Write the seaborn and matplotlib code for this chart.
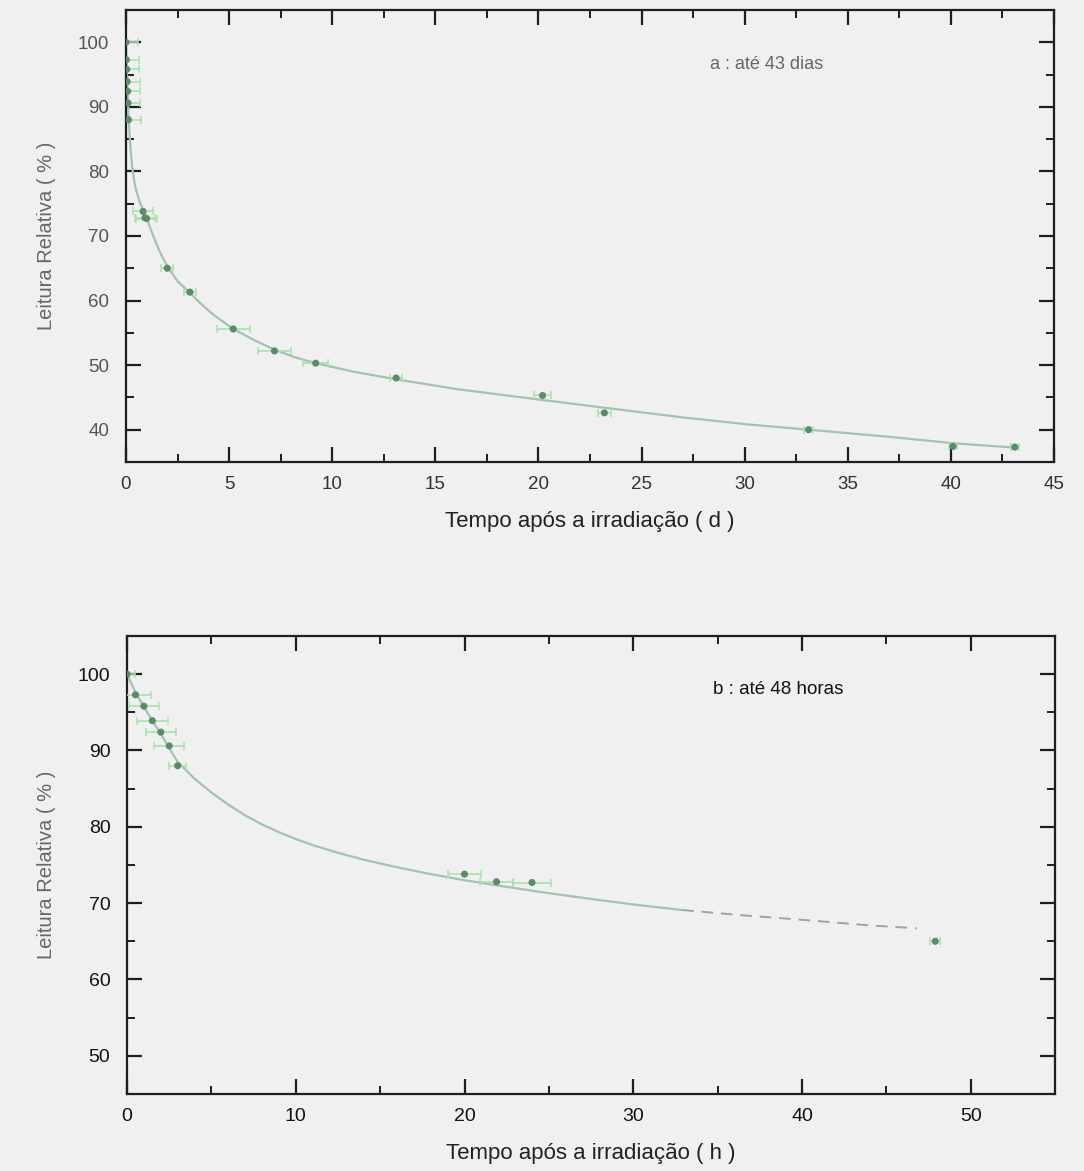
import matplotlib
matplotlib.use("Agg")
import matplotlib.pyplot as plt
from matplotlib.ticker import MultipleLocator
import seaborn as sns
import numpy as np
import pandas as pd

# ---------------- data ----------------
# Panel a (days)
a_x = [0, 0.02, 0.04, 0.06, 0.08, 0.10, 0.125, 0.83, 0.92, 1.0, 2.0, 3.1,
       5.2, 7.2, 9.2, 13.1, 20.2, 23.2, 33.1, 40.1, 43.1]
a_y = [100, 97.3, 95.8, 93.9, 92.4, 90.6, 88.0, 73.8, 72.8, 72.7, 65.0, 61.3,
       55.6, 52.2, 50.3, 48.0, 45.3, 42.6, 40.0, 37.4, 37.3]
a_xerr = [0.6, 0.6, 0.6, 0.6, 0.6, 0.6, 0.6, 0.5, 0.5, 0.5, 0.3, 0.3,
          0.8, 0.8, 0.6, 0.3, 0.4, 0.3, 0.2, 0.2, 0.2]
a_fit_x = [0, 0.04, 0.08, 0.125, 0.2, 0.3, 0.45, 0.65, 0.85, 1.0, 1.25, 1.5,
           1.75, 2.05, 2.5, 3.1, 3.6, 4.2, 5.2, 6.2, 7.2, 8.2, 9.2, 11.0, 13.1,
           16.0, 20.2, 23.2, 27.0, 30.2, 33.1, 37.0, 40.1, 43.2]
a_fit_y = [100, 95.7, 92.2, 88.5, 84.5, 80.6, 77.6, 75.4, 73.9, 72.8, 70.6, 68.6,
           66.8, 65.1, 63.0, 61.2, 59.6, 57.9, 55.6, 53.9, 52.4, 51.2, 50.3, 49.0,
           47.8, 46.3, 44.6, 43.4, 41.9, 40.8, 40.0, 38.9, 37.9, 37.2]

# Panel b (hours)
b_x = [0, 0.5, 1.0, 1.5, 2.0, 2.5, 3.0, 20.0, 21.9, 24.0, 47.9]
b_y = [100, 97.3, 95.8, 93.9, 92.4, 90.6, 88.0, 73.8, 72.8, 72.7, 65.0]
b_xerr = [0.5, 0.9, 0.9, 0.9, 0.9, 0.9, 0.5, 1.0, 1.0, 1.1, 0.3]
b_fit_x = [0, 0.5, 1.0, 1.5, 2.0, 2.5, 3.0, 4.0, 5.0, 6.0, 7.0, 8.0, 9.0, 10.0,
           11.0, 12.5, 14.0, 16.0, 18.0, 20.0, 22.0, 25.0, 28.0, 30.1, 32.9,
           36.5, 40.1, 43.9, 46.8]
b_fit_y = [100, 97.6, 95.7, 93.9, 92.2, 90.3, 88.5, 86.3, 84.5, 82.9, 81.5, 80.3,
           79.3, 78.4, 77.6, 76.6, 75.7, 74.7, 73.8, 73.0, 72.3, 71.3, 70.4, 69.8,
           69.1, 68.4, 67.8, 67.1, 66.7]
b_dash_from = 24  # index where the fitted curve turns dashed

a_xticks = [0, 5, 10, 15, 20, 25, 30, 35, 40, 45]
a_yticks = [40, 50, 60, 70, 80, 90, 100]
b_xticks = [0, 10, 20, 30, 40, 50]
b_yticks = [50, 60, 70, 80, 90, 100]

label_a = "a : até 43 dias"
label_b = "b : até 48 horas"
xlabel_a = "Tempo após a irradiação ( d )"
xlabel_b = "Tempo após a irradiação ( h )"
ylabel = "Leitura Relativa ( % )"

# ---------------- style ----------------
sns.set_style("ticks")
plt.rcParams['font.family'] = ['Liberation Sans', 'DejaVu Sans']
BG = '#f0f0f0'
PT = '#5a8c68'
ERR = '#a6e2a8'
FIT = '#a3c2b2'
DASH = '#97a89e'
SPINE = '#1e1e1e'

fig = plt.figure(figsize=(10.84, 11.71), dpi=100, facecolor=BG)
ax1 = fig.add_axes([0.1162, 0.6055, 0.8561, 0.386])
ax2 = fig.add_axes([0.1172, 0.0658, 0.8561, 0.3911])


def draw(ax, x, y, xerr, fx, fy, dash_from=None):
    ax.set_facecolor(BG)
    if dash_from is None:
        sns.lineplot(x=fx, y=fy, ax=ax, color=FIT, lw=1.6, sort=False,
                     estimator=None, zorder=2)
    else:
        sns.lineplot(x=fx[:dash_from + 1], y=fy[:dash_from + 1], ax=ax, color=FIT,
                     lw=1.6, sort=False, estimator=None, zorder=2)
        sns.lineplot(x=fx[dash_from:], y=fy[dash_from:], ax=ax, color=DASH,
                     lw=1.4, sort=False, estimator=None, zorder=2,
                     linestyle=(0, (6, 4)))
    ax.errorbar(x, y, xerr=xerr, fmt='none', ecolor=ERR, elinewidth=1.3,
                capsize=3, capthick=1.2, alpha=0.9, zorder=3)
    sns.scatterplot(x=x, y=y, ax=ax, color=PT, s=26, edgecolor='none', zorder=4)
    for s in ax.spines.values():
        s.set_visible(True)
        s.set_color(SPINE)
        s.set_linewidth(1.6)
    ax.tick_params(which='major', direction='in', length=11, width=1.6,
                   top=True, right=True, color=SPINE)
    ax.tick_params(which='minor', direction='in', length=6, width=1.4,
                   top=True, right=True, color=SPINE)


draw(ax1, a_x, a_y, a_xerr, a_fit_x, a_fit_y)
ax1.set_xlim(0, 45)
ax1.set_ylim(35, 105)
ax1.set_xticks(a_xticks)
ax1.set_yticks(a_yticks)
ax1.xaxis.set_minor_locator(MultipleLocator(2.5))
ax1.yaxis.set_minor_locator(MultipleLocator(5))
ax1.tick_params(axis='x', labelsize=13.5, pad=10, labelcolor='#333333')
ax1.tick_params(axis='y', labelsize=13.5, pad=12, labelcolor='#555555')
ax1.set_xlabel(xlabel_a, fontsize=16, color='#222222', labelpad=13)
ax1.set_ylabel(ylabel, fontsize=14.5, color='#666666', labelpad=16)
ax1.text(28.3, 96.5, label_a, fontsize=13, color='#666666',
         ha='left', va='center')

draw(ax2, b_x, b_y, b_xerr, b_fit_x, b_fit_y, dash_from=b_dash_from)
ax2.set_xlim(0, 55)
ax2.set_ylim(45, 105)
ax2.set_xticks(b_xticks)
ax2.set_yticks(b_yticks)
ax2.xaxis.set_minor_locator(MultipleLocator(5))
ax2.yaxis.set_minor_locator(MultipleLocator(5))
ax2.tick_params(axis='both', labelsize=14, labelcolor='#111111')
ax2.tick_params(axis='x', pad=10)
ax2.tick_params(axis='y', pad=12)
ax2.set_xlabel(xlabel_b, fontsize=16, color='#222222', labelpad=13)
ax2.set_ylabel(ylabel, fontsize=14.5, color='#666666', labelpad=16)
ax2.text(34.7, 98.0, label_b, fontsize=13.5, color='#111111',
         ha='left', va='center')

fig.savefig("out.png", dpi=100, facecolor=BG)
